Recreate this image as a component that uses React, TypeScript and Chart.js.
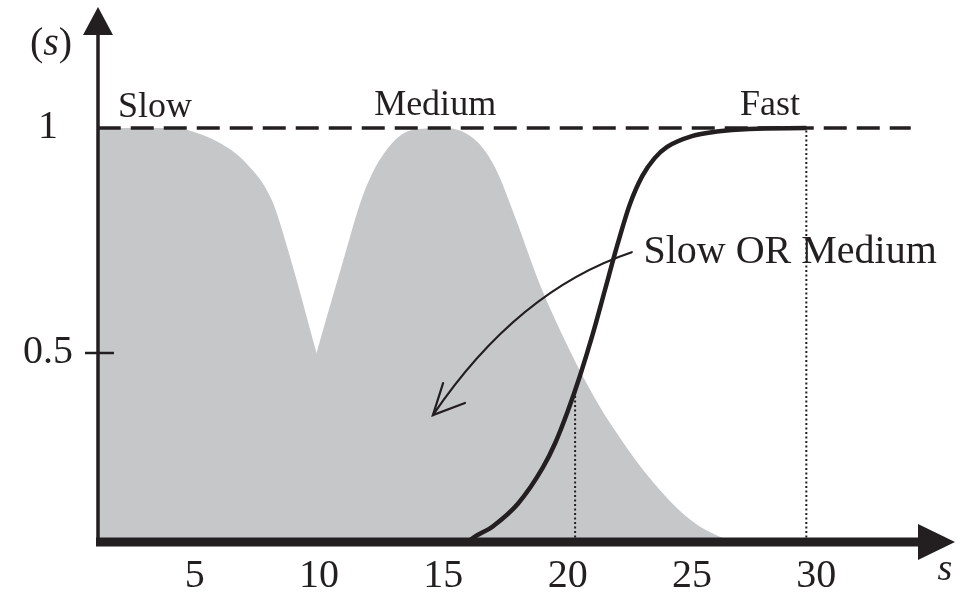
import React, { useEffect, useRef } from "react";
import { Chart, registerables } from "chart.js";

Chart.register(...registerables);

// ---------- data ----------
const xTicks = [5, 10, 15, 20, 25, 30];
const yTicks = [0.5, 1];

const slowX = [0, 4, 5.9, 7.1, 8.1, 8.8, 9.9, 11, 12.5, 14];
const slowY = [1, 1, 0.97, 0.92, 0.84, 0.72, 0.5, 0.28, 0.1, 0];

const mediumX = [5, 7, 8.8, 9.9, 11.05, 11.7, 12.45, 13.7, 15.1, 16.35, 17.1, 17.9, 18.9, 19.7, 20.5, 21.3, 22, 22.9, 23.7, 24.5, 25.3, 26.1, 27, 28];
const mediumY = [0, 0.1, 0.28, 0.5, 0.72, 0.84, 0.93, 0.995, 1, 0.97, 0.91, 0.8, 0.65, 0.55, 0.46, 0.38, 0.32, 0.25, 0.196, 0.15, 0.115, 0.092, 0.07, 0];

const fastX = [15, 16, 17, 18, 19, 19.5, 20, 20.5, 21, 21.5, 22, 22.5, 23, 23.5, 24, 25, 26, 27.3, 29.6];
const fastY = [0, 0.08, 0.115, 0.165, 0.245, 0.3, 0.37, 0.45, 0.54, 0.64, 0.74, 0.83, 0.893, 0.933, 0.958, 0.982, 0.992, 0.998, 1];

const dropX = [20.3, 29.6];
const dropY = [0.42, 1];

const refX = [1.1, 33.8];
const refLevel = 1;

const labelTexts = ["Slow", "Medium", "Fast"];
const callout = "Slow OR Medium";

// ---------- style ----------
const INK = "#231f20";
const GREY = "#c6c7c9";
const FAMILY = "'Liberation Serif', 'Times New Roman', serif";

const pts = (xs: number[], ys: number[]) => xs.map((x, i) => ({ x, y: ys[i] }));

const decor = {
  id: "decor",
  afterDraw(chart: any) {
    const { ctx, chartArea: a, scales } = chart;
    const xs = scales.x;
    const ys = scales.y;
    const px = (v: number) => xs.getPixelForValue(v);
    const py = (v: number) => ys.getPixelForValue(v);
    ctx.save();
    ctx.fillStyle = INK;
    ctx.strokeStyle = INK;

    // y axis with arrow
    ctx.lineWidth = 3.5;
    ctx.beginPath();
    ctx.moveTo(a.left, a.bottom);
    ctx.lineTo(a.left, a.top + 24);
    ctx.stroke();
    ctx.beginPath();
    ctx.moveTo(a.left, a.top - 3);
    ctx.lineTo(a.left - 15, a.top + 25);
    ctx.lineTo(a.left + 15, a.top + 25);
    ctx.closePath();
    ctx.fill();

    // 0.5 tick mark
    ctx.lineWidth = 2.5;
    ctx.beginPath();
    ctx.moveTo(a.left - 13, py(yTicks[0]));
    ctx.lineTo(a.left + 16, py(yTicks[0]));
    ctx.stroke();

    // x axis with arrow
    const ay = a.bottom + 1;
    ctx.fillRect(a.left - 2, ay - 4.5, a.right - 37 - (a.left - 2), 9);
    ctx.beginPath();
    ctx.moveTo(a.right, ay);
    ctx.lineTo(a.right - 37, ay - 18);
    ctx.lineTo(a.right - 37, ay + 18);
    ctx.closePath();
    ctx.fill();

    // axis names
    ctx.textBaseline = "alphabetic";
    ctx.font = `40px ${FAMILY}`;
    const wo = ctx.measureText("(").width;
    const wc = ctx.measureText(")").width;
    ctx.font = `italic 40px ${FAMILY}`;
    const ws = ctx.measureText("s").width;
    const total = wo + ws + wc;
    const sx = 51 - total / 2;
    ctx.textAlign = "left";
    ctx.font = `40px ${FAMILY}`;
    ctx.fillText("(", sx, 55);
    ctx.font = `italic 40px ${FAMILY}`;
    ctx.fillText("s", sx + wo, 55);
    ctx.font = `40px ${FAMILY}`;
    ctx.fillText(")", sx + wo + ws, 55);

    ctx.font = `italic 38px ${FAMILY}`;
    ctx.textAlign = "center";
    ctx.fillText("s", a.right - 10, 580);

    // set labels
    ctx.font = `36px ${FAMILY}`;
    ctx.fillText(labelTexts[0], px(3.4), py(1) - 11);
    ctx.fillText(labelTexts[1], px(14.67), py(1) - 13);
    ctx.fillText(labelTexts[2], px(28.14), py(1) - 13);
    ctx.font = `40px ${FAMILY}`;
    ctx.fillText(callout, px(28.95), py(0.7));

    // curved arrow
    const s0 = { x: px(22.58), y: py(0.724) };
    const c0 = { x: px(17.98), y: py(0.639) };
    const t0 = { x: px(14.58), y: py(0.362) };
    ctx.lineWidth = 2.2;
    ctx.lineCap = "round";
    ctx.beginPath();
    ctx.moveTo(s0.x, s0.y);
    ctx.quadraticCurveTo(c0.x, c0.y, t0.x, t0.y);
    ctx.stroke();
    ctx.beginPath();
    ctx.moveTo(px(14.99), py(0.433));
    ctx.lineTo(t0.x, t0.y);
    ctx.lineTo(px(15.87), py(0.389));
    ctx.stroke();

    ctx.restore();
  },
};

export default function App() {
  const ref = useRef<HTMLCanvasElement>(null);

  useEffect(() => {
    const canvas = ref.current;
    if (!canvas) return;
    const chart = new Chart(canvas, {
      type: "line",
      data: {
        datasets: [
          {
            data: pts(fastX, fastY),
            borderColor: INK,
            borderWidth: 4.5,
            pointRadius: 0,
            fill: false,
            cubicInterpolationMode: "monotone",
          },
          ...dropX.map((dx, i) => ({
            data: [
              { x: dx, y: 0 },
              { x: dx, y: dropY[i] },
            ],
            borderColor: INK,
            borderWidth: 2,
            borderDash: [2, 2.5],
            pointRadius: 0,
            fill: false,
          })),
          {
            data: refX.map((x) => ({ x, y: refLevel })),
            borderColor: INK,
            borderWidth: 3.5,
            borderDash: [23, 10],
            pointRadius: 0,
            fill: false,
          },
          {
            data: pts(mediumX, mediumY),
            borderWidth: 0,
            borderColor: GREY,
            backgroundColor: GREY,
            pointRadius: 0,
            fill: "start",
            cubicInterpolationMode: "monotone",
          },
          {
            data: pts(slowX, slowY),
            borderWidth: 0,
            borderColor: GREY,
            backgroundColor: GREY,
            pointRadius: 0,
            fill: "start",
            cubicInterpolationMode: "monotone",
          },
        ] as any,
      },
      options: {
        responsive: false,
        animation: false,
        events: [],
        layout: { padding: { top: 10, right: 18, left: 0, bottom: 0 } },
        plugins: {
          legend: { display: false },
          tooltip: { enabled: false },
        },
        scales: {
          x: {
            type: "linear",
            min: 1.11,
            max: 35.58,
            grid: { display: false, drawTicks: false },
            border: { display: false },
            afterBuildTicks: (s: any) => {
              s.ticks = xTicks.map((v) => ({ value: v }));
            },
            afterFit: (s: any) => {
              s.height = 56;
              s.paddingLeft = 0;
              s.paddingRight = 0;
            },
            ticks: {
              font: { family: FAMILY, size: 40 },
              color: INK,
              padding: 11,
              maxRotation: 0,
              autoSkip: false,
            },
          },
          y: {
            type: "linear",
            min: 0.0822,
            max: 1.2622,
            grid: { display: false, drawTicks: false },
            border: { display: false },
            afterBuildTicks: (s: any) => {
              s.ticks = yTicks.map((v) => ({ value: v }));
            },
            afterFit: (s: any) => {
              s.width = 98;
              s.paddingTop = 0;
              s.paddingBottom = 0;
            },
            ticks: {
              font: { family: FAMILY, size: 40 },
              color: INK,
              padding: 25,
              crossAlign: "center",
              callback: (v: any) => String(v),
            },
          },
        },
      } as any,
      plugins: [decor],
    });
    return () => chart.destroy();
  }, []);

  return (
    <div style={{ position: "absolute", left: 0, top: 0, width: 973, height: 597, background: "#ffffff" }}>
      <canvas ref={ref} width={973} height={597} style={{ display: "block", width: 973, height: 597 }} />
    </div>
  );
}
